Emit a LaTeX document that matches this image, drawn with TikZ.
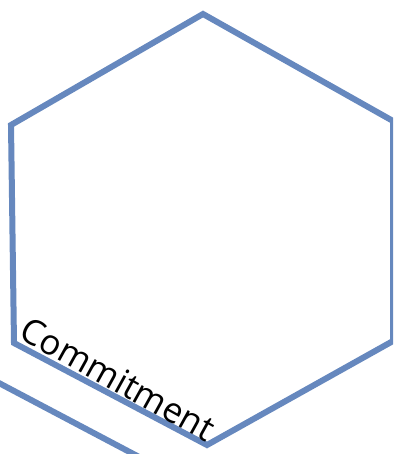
\documentclass[tikz,border=0pt]{standalone}
\usepackage{fontspec}
\setmainfont{Open Sans}
\usepackage{xcolor}
\usetikzlibrary{positioning}
\definecolor{hexblue}{RGB}{102,136,190}

\begin{document}
\begin{tikzpicture}[
  x=1pt, y=-1pt,
  hexline/.style={draw=hexblue, line width=6pt, line join=miter},
  lbl/.style={font=\fontsize{35}{38}\selectfont, inner sep=0pt}
]
  \useasboundingbox (0,0) rectangle (393,454);
  \clip (0,0) rectangle (393,454);
  % main hexagon
  \coordinate (top) at (203,14);
  \coordinate (ur) at (393,121);
  \coordinate (lr) at (393,341);
  \coordinate (bot) at (207,445);
  \coordinate (ll) at (14,343);
  \coordinate (ul) at (11,125);
  \draw[hexline] (top) -- (ur) -- (lr) -- (bot) -- (ll) -- (ul) -- cycle;
  % edge of the neighbouring hexagon
  \coordinate (nbA) at (-20,373);
  \coordinate (nbB) at (160,468);
  \draw[hexline] (nbA) -- (nbB);
  % label along the lower left edge
  \node[lbl, rotate=-29] (commit) at (118,379) {Commitment};
\end{tikzpicture}
\end{document}
